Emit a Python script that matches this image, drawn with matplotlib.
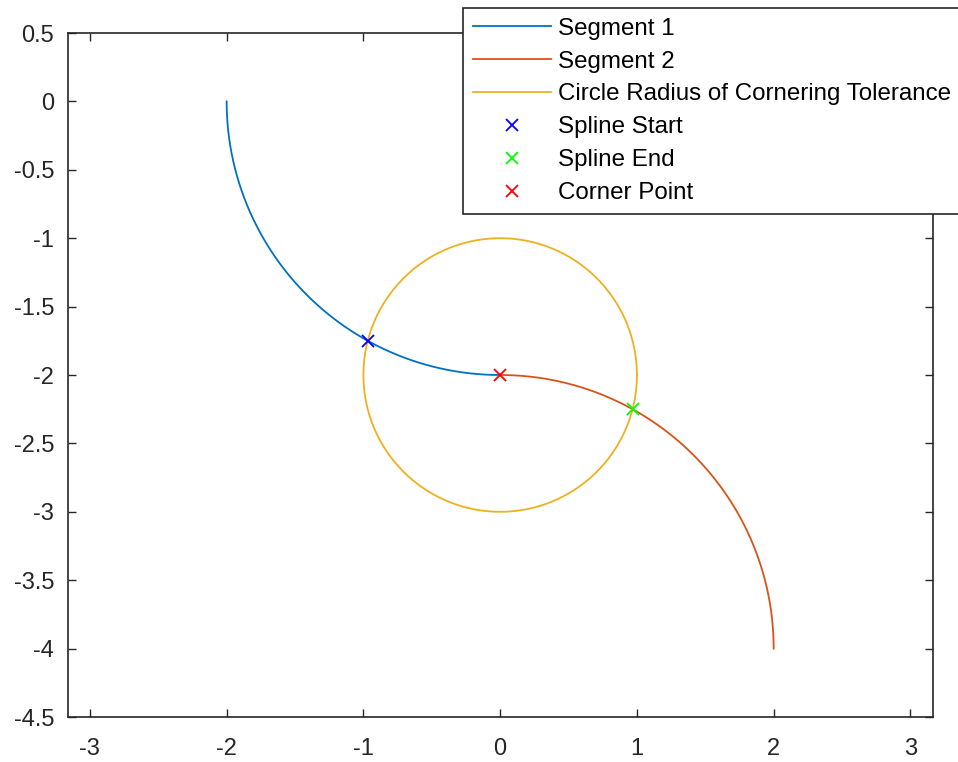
import numpy as np
import matplotlib
matplotlib.use('Agg')
import matplotlib.pyplot as plt

# arc definitions: center x, center y, radius, start angle, end angle (degrees)
seg1_arc = [0.0, 0.0, 2.0, 180.0, 270.0]
seg2_arc = [0.0, -4.0, 2.0, 90.0, 0.0]
circle_arc = [0.0, -2.0, 1.0, 0.0, 360.0]

spline_start = [-0.968, -1.75]
spline_end = [0.968, -2.25]
corner_point = [0.0, -2.0]

labels = ['Segment 1', 'Segment 2', 'Circle Radius of Cornering Tolerance',
          'Spline Start', 'Spline End', 'Corner Point']
xticks = [-3, -2, -1, 0, 1, 2, 3]
yticks = [0.5, 0, -0.5, -1, -1.5, -2, -2.5, -3, -3.5, -4, -4.5]


def arc(a, n=400):
    t = np.radians(np.linspace(a[3], a[4], n))
    return a[0] + a[2] * np.cos(t), a[1] + a[2] * np.sin(t)


plt.rcParams['font.family'] = ['Liberation Sans', 'DejaVu Sans']
plt.rcParams['font.size'] = 17

fig = plt.figure(figsize=(9.58, 7.62), dpi=100)
ax = fig.add_axes([68 / 958, 45 / 762, 865 / 958, 684 / 762])

x1, y1 = arc(seg1_arc)
x2, y2 = arc(seg2_arc)
xc, yc = arc(circle_arc)
ax.plot(x1, y1, color='#0072BD', lw=1.3, label=labels[0])
ax.plot(x2, y2, color='#D95319', lw=1.3, label=labels[1])
ax.plot(xc, yc, color='#EDB120', lw=1.3, label=labels[2])
ax.plot(spline_start[0], spline_start[1], 'x', color='blue', ms=8, mew=1.3,
        label=labels[3])
ax.plot(spline_end[0], spline_end[1], 'x', color='lime', ms=8, mew=1.3,
        label=labels[4])
ax.plot(corner_point[0], corner_point[1], 'x', color='red', ms=8, mew=1.3,
        label=labels[5])

ax.set_xlim(-3.16, 3.165)
ax.set_ylim(-4.5, 0.5)
ax.set_xticks(xticks)
ax.set_yticks(yticks)
ax.set_xticklabels([str(v) for v in xticks])
ax.set_yticklabels(['%g' % v for v in yticks])
ax.tick_params(direction='in', top=True, right=True, length=6, width=1,
               colors='#262626', labelsize=17)
ax.tick_params(axis='x', pad=15)
ax.tick_params(axis='y', pad=10)
for s in ax.spines.values():
    s.set_color('#262626')
    s.set_linewidth(1.2)

leg = ax.legend(loc='upper left', bbox_to_anchor=(463 / 958, 1 - 8 / 762),
                bbox_transform=fig.transFigure, fancybox=False, framealpha=1,
                edgecolor='#262626', handlelength=3.25, handletextpad=0.3,
                labelspacing=0.45, borderpad=0.4, borderaxespad=0,
                prop={'size': 17.4})
leg.get_frame().set_linewidth(1.2)

fig.savefig('out.png', dpi=100)
